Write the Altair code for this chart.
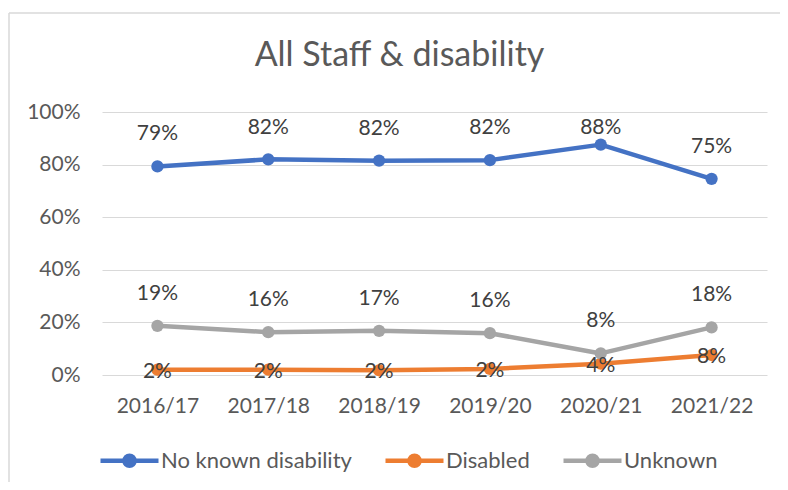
import altair as alt
import pandas as pd

years = ["2016/17", "2017/18", "2018/19", "2019/20", "2020/21", "2021/22"]
no_known = [0.793, 0.820, 0.815, 0.817, 0.876, 0.746]
disabled = [0.020, 0.020, 0.018, 0.023, 0.043, 0.076]
unknown = [0.187, 0.163, 0.168, 0.159, 0.082, 0.181]

series_names = ["No known disability", "Disabled", "Unknown"]
series_colors = ["#4472C4", "#ED7D31", "#A5A5A5"]

rows = []
for name, vals in zip(series_names, [no_known, disabled, unknown]):
    for y, v in zip(years, vals):
        rows.append({"year": y, "series": name, "value": v})
df = pd.DataFrame(rows)

FONT = "Lato"
W, H = 665, 263
PL, PT, PR, PB = 94, 104, 13, 107

u = 29.0
r1 = 5 / u
r2 = 1.5 / u
legend_path = (
    f"M-1,0L1,0"
    f"M{r1:.4f},0A{r1:.4f},{r1:.4f},0,1,1,{-r1:.4f},0A{r1:.4f},{r1:.4f},0,1,1,{r1:.4f},0"
    f"M{r2:.4f},0A{r2:.4f},{r2:.4f},0,1,1,{-r2:.4f},0A{r2:.4f},{r2:.4f},0,1,1,{r2:.4f},0"
)

x_enc = alt.X(
    "year:O",
    sort=years,
    scale=alt.Scale(type="point", padding=0.5),
    axis=alt.Axis(
        title=None, labelAngle=0, domain=False, ticks=False,
        labelFont=FONT, labelFontSize=21, labelColor="#595959", labelPadding=20,
        grid=False,
    ),
)
y_axis = alt.Axis(
    title=None, values=[0, 0.2, 0.4, 0.6, 0.8, 1.0], format=".0%",
    domain=False, ticks=False, labelFont=FONT, labelFontSize=21,
    labelColor="#595959", labelPadding=22, gridColor="#d9d9d9", gridWidth=1,
)
y_scale = alt.Scale(domain=[0, 1], nice=False)
y_enc = alt.Y("value:Q", scale=y_scale, axis=y_axis)
color_scale = alt.Scale(domain=series_names, range=series_colors)

base = alt.Chart(df)

lines = base.mark_line(strokeWidth=4.5, strokeCap="round", strokeJoin="round").encode(
    x=x_enc, y=y_enc,
    color=alt.Color(
        "series:N", scale=color_scale, sort=series_names,
        legend=alt.Legend(
            title=None, orient="none", direction="horizontal",
            legendX=-4, legendY=317,
            symbolType=legend_path, symbolSize=3364, symbolStrokeWidth=4.5,
            labelFont=FONT, labelFontSize=22, labelColor="#595959",
            labelOffset=0, labelLimit=400, columnPadding=24, padding=0,
        ),
    ),
)

points = base.mark_circle(size=150, opacity=1).encode(
    x=x_enc, y=y_enc,
    color=alt.Color("series:N", scale=color_scale, sort=series_names, legend=None),
)

labels_above = base.transform_filter(
    alt.datum.series != "Disabled"
).transform_calculate(
    label_pos="min(datum.value + 32 / 263, 0.939)"
).mark_text(font=FONT, fontSize=21, color="#404040", baseline="middle").encode(
    x=x_enc,
    y=alt.Y("label_pos:Q", scale=y_scale, axis=y_axis),
    text=alt.Text("value:Q", format=".0%"),
)

labels_center = base.transform_filter(
    alt.datum.series == "Disabled"
).mark_text(font=FONT, fontSize=21, color="#404040", dy=2, baseline="middle").encode(
    x=x_enc, y=y_enc, text=alt.Text("value:Q", format=".0%"),
)

frame_src = alt.Chart(alt.Data(values=[{}]))
border_top = frame_src.mark_rule(stroke="#d9d9d9", strokeWidth=1.5).encode(
    x=alt.value(-93), x2=alt.value(W + PR + 50), y=alt.value(-99),
)
border_left = frame_src.mark_rule(stroke="#d9d9d9", strokeWidth=1.5).encode(
    x=alt.value(-93), y=alt.value(-99), y2=alt.value(H + PB + 50),
)

chart = alt.layer(border_top, border_left, lines, points, labels_above, labels_center).properties(
    width=W, height=H,
    background="white",
    title=alt.TitleParams(
        "All Staff & disability", font=FONT, fontSize=34, fontWeight="normal",
        color="#595959", anchor="middle", dx=-35, dy=88, offset=0, frame="group",
        baseline="alphabetic",
    ),
    autosize=alt.AutoSizeParams(type="none"),
    padding={"left": PL, "top": PT, "right": PR, "bottom": PB},
).configure_view(stroke=None)

chart.save("out.html", embed_options={"renderer": "svg", "actions": False})
